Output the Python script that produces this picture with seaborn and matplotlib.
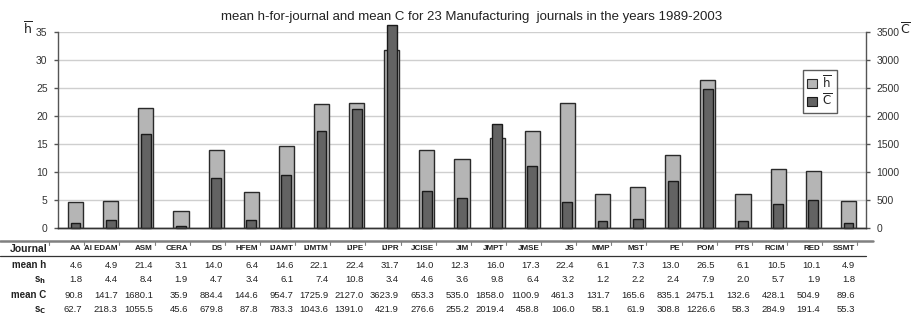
import numpy as np
import matplotlib
matplotlib.use("Agg")
import matplotlib.pyplot as plt
import seaborn as sns
from matplotlib.lines import Line2D
from matplotlib.patches import Patch

# ==================== DATA ====================
journals = ["AA", "AI EDAM", "ASM", "CERA", "DS", "HFEM", "IJAMT", "IJMTM", "IJPE", "IJPR",
            "JCISE", "JIM", "JMPT", "JMSE", "JS", "MMP", "MST", "PE", "POM", "PTS",
            "RCIM", "RED", "SSMT"]
mean_h = [4.6, 4.9, 21.4, 3.1, 14.0, 6.4, 14.6, 22.1, 22.4, 31.7, 14.0, 12.3, 16.0, 17.3,
          22.4, 6.1, 7.3, 13.0, 26.5, 6.1, 10.5, 10.1, 4.9]
s_h = [1.8, 4.4, 8.4, 1.9, 4.7, 3.4, 6.1, 7.4, 10.8, 3.4, 4.6, 3.6, 9.8, 6.4, 3.2, 1.2,
       2.2, 2.4, 7.9, 2.0, 5.7, 1.9, 1.8]
mean_c = [90.8, 141.7, 1680.1, 35.9, 884.4, 144.6, 954.7, 1725.9, 2127.0, 3623.9, 653.3,
          535.0, 1858.0, 1100.9, 461.3, 131.7, 165.6, 835.1, 2475.1, 132.6, 428.1, 504.9, 89.6]
s_c = [62.7, 218.3, 1055.5, 45.6, 679.8, 87.8, 783.3, 1043.6, 1391.0, 421.9, 276.6, 255.2,
       2019.4, 458.8, 106.0, 58.1, 61.9, 308.8, 1226.6, 58.3, 284.9, 191.4, 55.3]

# ==================== STYLE ====================
sns.set_theme(style="white")
plt.rcParams["font.family"] = ["Liberation Sans", "DejaVu Sans"]
plt.rcParams["mathtext.fontset"] = "dejavusans"

LIGHT = "#b5b5b5"
DARK = "#636363"
TXT = "#222222"

fig, ax = plt.subplots(figsize=(9.14, 3.17), dpi=100)
fig.subplots_adjust(left=58 / 914, right=866 / 914, top=1 - 32 / 317, bottom=1 - 228 / 317)
ax2 = ax.twinx()

sns.barplot(x=journals, y=mean_h, ax=ax, width=0.43, color=LIGHT,
            edgecolor="#2a2a2a", linewidth=1.0, saturation=1)
sns.barplot(x=journals, y=mean_c, ax=ax2, width=0.28, color=DARK,
            edgecolor="#1a1a1a", linewidth=1.0, saturation=1)
for p in ax2.patches:
    p.set_clip_on(False)

ax.set_ylim(0, 35)
ax2.set_ylim(0, 3500)
ax.set_xlim(-0.5, len(journals) - 0.5)
ax.set_yticks(range(0, 36, 5))
ax2.set_yticks(range(0, 3501, 500))
ax.yaxis.grid(True, color="#cfcfcf", linewidth=1.0)
ax.set_axisbelow(True)
ax.set_xlabel("")
ax.set_ylabel("")
ax2.set_ylabel("")
ax.set_xticks([])
ax2.set_xticks([])

for a in (ax, ax2):
    a.spines["top"].set_visible(False)
    a.spines["left"].set_color("#555555")
    a.spines["right"].set_color("#555555")
    a.spines["bottom"].set_color("#333333")
    for s in ("left", "right", "bottom"):
        a.spines[s].set_linewidth(1.0)
    a.tick_params(axis="y", labelsize=7.5, labelcolor="#333333", length=3,
                  width=1.0, color="#555555", pad=4.5)
ax.tick_params(axis="y", left=True, right=False)
ax2.tick_params(axis="y", right=True, left=False)
ax2.spines["left"].set_visible(False)
ax.spines["right"].set_visible(False)

# axis symbols
fig.text(28 / 914, 1 - 29 / 317, r"$\overline{\mathrm{h}}$", fontsize=9, color=TXT,
         ha="center", va="center")
fig.text(905 / 914, 1 - 30 / 317, r"$\overline{\mathrm{C}}$", fontsize=9, color=TXT,
         ha="center", va="center")

fig.text(472 / 914, 1 - 17 / 317,
         "mean h-for-journal and mean C for 23 Manufacturing  journals in the years 1989-2003",
         fontsize=9.5, color=TXT, ha="center", va="center")

# legend
handles = [Patch(facecolor=LIGHT, edgecolor="#2a2a2a", linewidth=0.8),
           Patch(facecolor=DARK, edgecolor="#1a1a1a", linewidth=0.8)]
leg = ax2.legend(handles, [r"$\overline{\mathrm{h}}$", r"$\overline{\mathrm{C}}$"],
                 loc="upper left", bbox_to_anchor=(803 / 914, 1 - 70 / 317),
                 bbox_transform=fig.transFigure, fontsize=8.5, frameon=True, fancybox=False,
                 handlelength=0.8, handleheight=0.8, handletextpad=0.5,
                 borderpad=0.35, labelspacing=0.2, borderaxespad=0)
leg.get_frame().set_edgecolor("#333333")
leg.get_frame().set_linewidth(1.0)

# ==================== TABLE ====================
def fy(px):
    return 1 - px / 317

def data_to_fig_x(x):
    disp = ax.transData.transform((x, 0))
    return fig.transFigure.inverted().transform(disp)[0]

fig.canvas.draw()
fig.add_artist(Line2D([0, 873 / 914], [fy(241), fy(241)], color="#808080", linewidth=1.8))
fig.add_artist(Line2D([0, 866 / 914], [fy(256), fy(256)], color="#333333", linewidth=0.9))
for i in range(-1, len(journals)):
    xb = data_to_fig_x(i + 0.25)
    fig.add_artist(Line2D([xb, xb], [fy(241), fy(244.5)], color="#808080", linewidth=0.8))

rows_y = [249, 265, 280, 295, 310]
fig.text(10 / 914, fy(rows_y[0]), "Journal", fontsize=7.5, fontweight="bold", color=TXT,
         ha="left", va="center")
row_labels = ["mean h", r"s$_\mathbf{h}$", "mean C", r"s$_\mathbf{C}$"]
for lab, y in zip(row_labels, rows_y[1:]):
    fig.text(46 / 914, fy(y), lab, fontsize=7, fontweight="bold", color=TXT,
             ha="right", va="center")

for i, name in enumerate(journals):
    xr = data_to_fig_x(i + 0.2)
    if i == 0:
        xr = data_to_fig_x(i + 0.15)
    fig.text(xr, fy(rows_y[0]), name, fontsize=5.8, fontweight="bold", color=TXT,
             ha="right", va="center")
    for vals, y in zip([mean_h, s_h, mean_c, s_c], rows_y[1:]):
        fig.text(data_to_fig_x(i + 0.2), fy(y), f"{vals[i]:.1f}", fontsize=6.8, color=TXT,
                 ha="right", va="center")

fig.savefig("out.png", dpi=100)
